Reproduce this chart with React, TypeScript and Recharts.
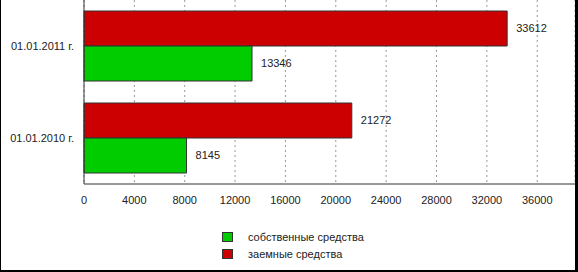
import React from "react";
import { BarChart, Bar, XAxis, YAxis, CartesianGrid, LabelList } from "recharts";

const categories = ["01.01.2011 г.", "01.01.2010 г."];
const borrowed = [33612, 21272];
const own = [13346, 8145];
const xTicks = [0, 4000, 8000, 12000, 16000, 20000, 24000, 28000, 32000, 36000];
const seriesNames = { own: "собственные средства", borrowed: "заемные средства" };
const legendOrder = [
  { key: "own", name: seriesNames.own, color: "#00CC00" },
  { key: "borrowed", name: seriesNames.borrowed, color: "#CC0000" },
];

const data = categories.map((c, i) => ({ name: c, borrowed: borrowed[i], own: own[i] }));

const FONT = "'Liberation Sans', Arial, sans-serif";

const YTick = (props: any) => {
  const { x, y, payload } = props;
  return (
    <text x={x - 2} y={y} dy="0.355em" textAnchor="end" fill="#222" fontSize={11} fontFamily={FONT}>
      {payload.value}
    </text>
  );
};

export default function App() {
  return (
    <div style={{ position: "absolute", left: 0, top: 0, width: 578, height: 272, background: "#fff", fontFamily: FONT }}>
      <BarChart
        width={578}
        height={272}
        data={data}
        layout="vertical"
        margin={{ top: 0, right: 3, left: 0, bottom: 58 }}
        barCategoryGap={11}
        barGap={0}
      >
        <CartesianGrid horizontal={false} vertical={true} stroke="#999" strokeDasharray="2 3" />
        <XAxis
          type="number"
          domain={[0, 39000]}
          ticks={xTicks}
          height={30}
          tickLine={false}
          tickMargin={6}
          stroke="#333"
          tick={{ fill: "#222", fontSize: 11, fontFamily: FONT }}
          interval={0}
        />
        <YAxis
          type="category"
          dataKey="name"
          width={84}
          tickLine={false}
          stroke="#333"
          tick={<YTick />}
        />
        <Bar dataKey="borrowed" name={seriesNames.borrowed} fill="#CC0000" stroke="#333" strokeWidth={1} isAnimationActive={false}>
          <LabelList dataKey="borrowed" position="right" offset={9} fill="#222" fontSize={11} fontFamily={FONT} />
        </Bar>
        <Bar dataKey="own" name={seriesNames.own} fill="#00CC00" stroke="#333" strokeWidth={1} isAnimationActive={false}>
          <LabelList dataKey="own" position="right" offset={9} fill="#222" fontSize={11} fontFamily={FONT} />
        </Bar>
      </BarChart>
      <div style={{ position: "absolute", left: 222, top: 228 }}>
        {legendOrder.map((l) => (
          <div key={l.key} style={{ display: "flex", alignItems: "center", height: 17 }}>
            <div style={{ width: 9, height: 8, background: l.color, border: "1px solid #333" }} />
            <span style={{ marginLeft: 15, fontSize: 11, color: "#222", fontFamily: FONT }}>{l.name}</span>
          </div>
        ))}
      </div>
      <div
        style={{
          position: "absolute",
          left: 0,
          top: 0,
          width: 578,
          height: 272,
          boxSizing: "border-box",
          borderLeft: "1px solid #000",
          borderRight: "3px solid #000",
          borderBottom: "2px solid #000",
          pointerEvents: "none",
        }}
      />
    </div>
  );
}
